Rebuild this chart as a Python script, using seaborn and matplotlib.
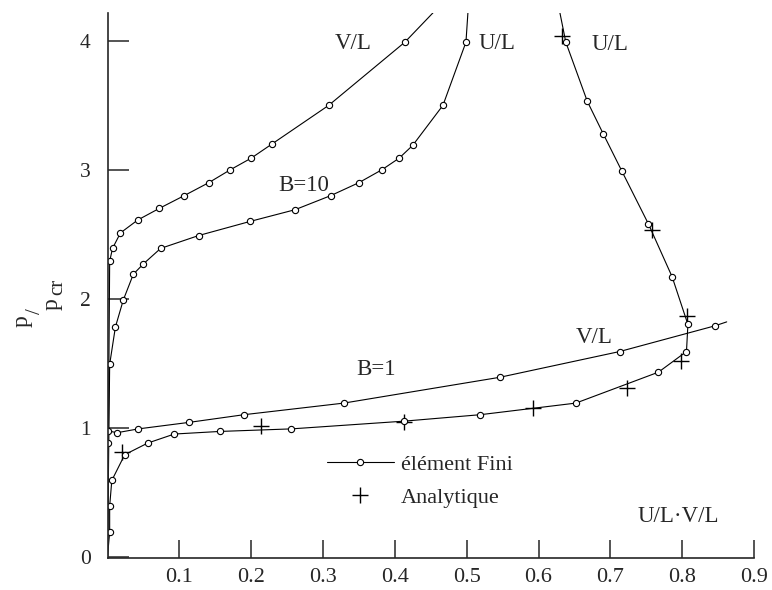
import matplotlib.pyplot as plt
import seaborn as sns
from matplotlib.lines import Line2D

# B=10, V/L (finite elements)
b10_v_x = [0.0, 0.003, 0.007, 0.018, 0.042, 0.072, 0.107, 0.141, 0.171, 0.200,
           0.229, 0.308, 0.414, 0.457]
b10_v_y = [0.0, 2.29, 2.39, 2.51, 2.61, 2.70, 2.80, 2.90, 3.00, 3.09,
           3.20, 3.50, 3.99, 4.24]

# B=10, U/L (finite elements)
b10_u_x = [0.0, 0.003, 0.011, 0.022, 0.036, 0.050, 0.074, 0.127, 0.199, 0.261,
           0.311, 0.350, 0.382, 0.406, 0.425, 0.467, 0.499, 0.502]
b10_u_y = [0.0, 1.49, 1.78, 1.99, 2.19, 2.27, 2.39, 2.49, 2.60, 2.69,
           2.80, 2.90, 3.00, 3.09, 3.19, 3.50, 3.99, 4.24]

# B=1, U/L (finite elements)
b1_u_x = [0.0, 0.003, 0.003, 0.006, 0.024, 0.056, 0.093, 0.156, 0.256, 0.413,
          0.519, 0.652, 0.767, 0.806, 0.808, 0.786, 0.753, 0.716, 0.690, 0.668,
          0.638, 0.629]
b1_u_y = [0.0, 0.19, 0.39, 0.59, 0.79, 0.88, 0.95, 0.97, 0.99, 1.05,
          1.10, 1.19, 1.43, 1.59, 1.80, 2.17, 2.58, 2.99, 3.28, 3.53,
          3.99, 4.24]

# B=1, V/L (finite elements)
b1_v_x = [0.0, 0.001, 0.0, 0.013, 0.043, 0.113, 0.190, 0.329, 0.546, 0.713,
          0.846, 0.862]
b1_v_y = [0.0, 0.88, 0.976, 0.96, 0.99, 1.04, 1.10, 1.19, 1.39, 1.59,
          1.79, 1.82]

# analytique
an_x = [0.020, 0.214, 0.413, 0.593, 0.723, 0.799, 0.807, 0.758, 0.633]
an_y = [0.81, 1.01, 1.04, 1.15, 1.305, 1.52, 1.866, 2.53, 4.04]

x_ticks = [0.1, 0.2, 0.3, 0.4, 0.5, 0.6, 0.7, 0.8, 0.9]
y_ticks = [0, 1, 2, 3, 4]

sns.set_style('ticks')
plt.rcParams['font.family'] = ['Liberation Serif', 'DejaVu Serif']

fig = plt.figure(figsize=(7.72, 5.90), dpi=100)
ax = fig.add_axes([107.5 / 772, 32 / 590, 646.5 / 772, 545 / 590])

style = dict(color='black', lw=0.8, marker='o', markersize=4.5,
             markerfacecolor='white', markeredgecolor='black',
             markeredgewidth=0.8, markevery=slice(1, -1),
             sort=False, estimator=None)

for xs, ys in [(b10_v_x, b10_v_y), (b10_u_x, b10_u_y),
               (b1_u_x, b1_u_y), (b1_v_x, b1_v_y)]:
    sns.lineplot(x=xs, y=ys, ax=ax, **style)

sns.scatterplot(x=an_x, y=an_y, marker='+', s=120, color='black',
                linewidth=1, ax=ax)

ax.set_xlim(0, 0.9)
ax.set_ylim(-0.0116, 4.216)
ax.set_xticks(x_ticks)
ax.set_xticklabels([f'{t:.1f}' for t in x_ticks])
ax.set_yticks(y_ticks)
ax.set_yticklabels([str(t) for t in y_ticks])
ax.tick_params(axis='x', direction='in', length=13, width=1.1, labelsize=16, pad=7)
ax.tick_params(axis='y', direction='in', length=15, width=1.1, labelsize=15.5, pad=12)
sns.despine(ax=ax)
for s in ['left', 'bottom']:
    ax.spines[s].set_linewidth(1.2)

# annotations
fs = 16.5
ax.text(0.342, 3.98, 'V/L', fontsize=fs, ha='center', va='center')
ax.text(0.542, 3.98, 'U/L', fontsize=fs, ha='center', va='center')
ax.text(0.700, 3.97, 'U/L', fontsize=fs, ha='center', va='center')
ax.text(0.273, 2.88, 'B=10', fontsize=fs, ha='center', va='center')
ax.text(0.374, 1.45, 'B=1', fontsize=fs, ha='center', va='center')
ax.text(0.677, 1.70, 'V/L', fontsize=fs, ha='center', va='center')
ax.text(0.794, 0.31, 'U/L·V/L', fontsize=fs, ha='center', va='center')

# y label p/p_cr
fig.text(22 / 772, 1 - 321 / 590, 'p', fontsize=17, rotation=90, ha='center', va='center')
fig.text(35 / 772, 1 - 311 / 590, '/', fontsize=15, rotation=90, ha='center', va='center')
fig.text(52 / 772, 1 - 304 / 590, 'p', fontsize=17, rotation=90, ha='center', va='center')
fig.text(58 / 772, 1 - 287 / 590, 'cr', fontsize=15, rotation=90, ha='center', va='center')

handles = [
    Line2D([], [], color='black', lw=0.8, marker='o', markersize=4.5,
           markerfacecolor='white', markeredgewidth=0.8),
    Line2D([], [], color='black', lw=0, marker='+', markersize=11,
           markeredgewidth=1),
]
ax.legend(handles, ['élément Fini', 'Analytique'], loc='center left',
          bbox_to_anchor=(327 / 772, 1 - 481 / 590), bbox_transform=fig.transFigure,
          frameon=False, fontsize=16, handlelength=3.0, handletextpad=0.32,
          labelspacing=0.55, borderpad=0, borderaxespad=0, numpoints=1)

fig.savefig('out.png', dpi=100)
